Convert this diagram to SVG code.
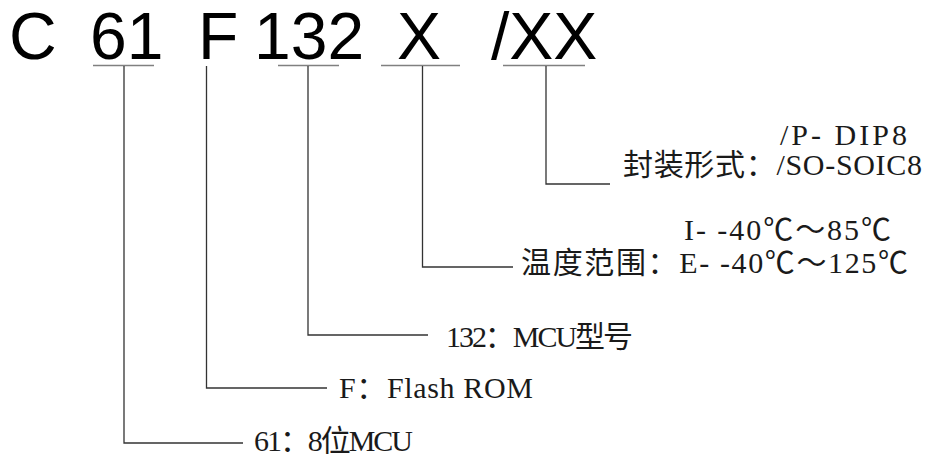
<svg xmlns="http://www.w3.org/2000/svg" width="926" height="457" viewBox="0 0 926 457">
<style>
.title{font-family:"Liberation Sans",Arial,sans-serif;font-size:66px;fill:#000}
.lbl{font-family:"Liberation Serif","Noto Sans CJK SC",serif;font-size:30px;fill:#1a1a1a}
.ul{stroke:#808080;stroke-width:1.3;fill:none}
.cn{stroke:#333;stroke-width:1.3;fill:none}
</style>
<rect width="926" height="457" fill="#fff"/>
<g id="code">
<text class="title" x="9" y="59">C</text>
<text class="title" x="90" y="59">61</text>
<text class="title" x="198" y="59">F</text>
<text class="title" x="254" y="59">132</text>
<text class="title" x="397" y="59">X</text>
<text class="title" x="491" y="59">/XX</text>
</g>
<g id="underlines">
<line class="ul" x1="93" y1="65.5" x2="154" y2="65.5"/>
<line class="ul" x1="278" y1="65.5" x2="339" y2="65.5"/>
<line class="ul" x1="381" y1="65.5" x2="460" y2="65.5"/>
<line class="ul" x1="503" y1="65.5" x2="585" y2="65.5"/>
</g>
<g id="connectors">
<polyline class="cn" points="124,66 124,443 243,443"/>
<polyline class="cn" points="206.5,66 206.5,388 327,388"/>
<polyline class="cn" points="308,66 308,335 428,335"/>
<polyline class="cn" points="422.5,66 422.5,267 513,267"/>
<polyline class="cn" points="546,66 546,184 610,184"/>
</g>
<g id="package">
<text class="lbl" x="780" y="145" textLength="127" lengthAdjust="spacing">/P- DIP8</text>
<text class="lbl" x="623" y="175" textLength="299" lengthAdjust="spacing">封装形式：/SO-SOIC8</text>
</g>
<g id="temperature">
<text class="lbl" x="684" y="240" textLength="207" lengthAdjust="spacing">I- -40℃～85℃</text>
<text class="lbl" x="521" y="273" textLength="387" lengthAdjust="spacing">温度范围：E- -40℃～125℃</text>
</g>
<g id="model">
<text class="lbl" x="446" y="347" textLength="187" lengthAdjust="spacing">132：MCU型号</text>
</g>
<g id="flash">
<text class="lbl" x="339" y="398" textLength="194" lengthAdjust="spacing">F：Flash ROM</text>
</g>
<g id="bits">
<text class="lbl" x="254" y="451" textLength="159" lengthAdjust="spacing">61：8位MCU</text>
</g>
</svg>
